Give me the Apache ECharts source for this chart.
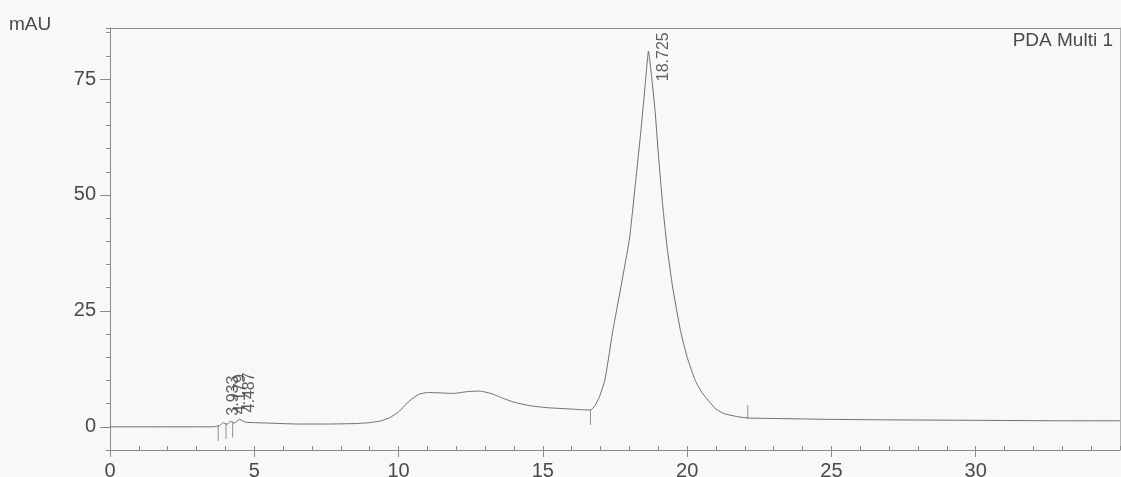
<!DOCTYPE html>
<html>
<head>
<meta charset="utf-8">
<script src="https://cdn.jsdelivr.net/npm/echarts@6/dist/echarts.min.js"></script>
<style>
  html, body { margin: 0; padding: 0; background: #f8f8f7; }
  #main { width: 1121px; height: 477px; }
</style>
</head>
<body>
<div id="main"></div>
<script>
// retention time (min) and detector signal (mAU)
var timeMin = [0, 1, 2, 3, 3.5, 3.7, 3.8, 3.93, 4.05, 4.18, 4.3, 4.49, 4.7, 5.0, 5.5, 6.5, 7.5, 8.5, 9.0, 9.4,
    9.7, 10.0, 10.2, 10.4, 10.7, 11.0, 11.5, 11.9, 12.4, 12.8, 13.2, 13.6, 14.0, 14.6, 15.2, 15.8, 16.3, 16.65,
    16.8, 16.95, 17.15, 17.43, 17.7, 18.0, 18.2, 18.4, 18.55, 18.66, 18.76, 18.89, 19.0, 19.15,
    19.3, 19.5, 19.76, 20.0, 20.28, 20.5, 20.73, 21.0, 21.3, 21.74, 22.1, 23, 24, 25, 27, 30, 33, 35];
var signalMAU = [0, 0, 0, 0, 0, 0.1, 0.3, 0.9, 0.5, 1.2, 0.8, 1.6, 1.0, 0.9, 0.8, 0.6, 0.6, 0.7, 0.9, 1.3,
    2.0, 3.2, 4.5, 5.7, 7.0, 7.4, 7.3, 7.2, 7.6, 7.7, 7.2, 6.2, 5.3, 4.5, 4.1, 3.9, 3.7, 3.6,
    4.5, 6.3, 10.1, 20.9, 30, 40.5, 52, 64, 74, 81, 76, 68, 59, 48,
    39, 30, 21, 15, 10, 7.5, 5.7, 3.8, 2.8, 2.2, 1.9, 1.8, 1.7, 1.6, 1.5, 1.4, 1.3, 1.3];

// integrated peaks: retention time and apex height
var peakRT = [3.933, 4.179, 4.487, 18.725];
var peakApex = [0.9, 1.2, 1.6, 81];

// peak start / end markers
var markDownT = [3.75, 4.02, 4.25, 16.65];
var markDownY = [0.2, 0.6, 0.9, 3.6];
var markUpT = [22.1];
var markUpY = [1.9];

var yTickLabels = [0, 25, 50, 75];

var axisColor = '#8a8a8a';
var textColor = '#4a4a4a';
var fontFamily = "'Liberation Sans', Arial, sans-serif";

var trace = timeMin.map(function (t, i) { return [t, signalMAU[i]]; });
var peaks = peakRT.map(function (t, i) {
    var item = { value: [t, peakApex[i]] };
    // the main peak label sits beside the apex instead of above it
    if (i === peakRT.length - 1) item.label = { position: [14, 31] };
    return item;
});
var downMarks = markDownT.map(function (t, i) { return [t, markDownY[i]]; });
var upMarks = markUpT.map(function (t, i) { return [t, markUpY[i]]; });

var myChart = echarts.init(document.getElementById('main'));
myChart.setOption({
    backgroundColor: '#f8f8f7',
    animation: false,
    grid: { left: 110, right: 1, top: 28, bottom: 27, containLabel: false, outerBoundsMode: 'none' },
    graphic: [
        { type: 'text', left: 9, top: 15,
          style: { text: 'mAU', font: '19px ' + fontFamily, fill: textColor } },
        { type: 'text', right: 8, top: 31,
          style: { text: 'PDA Multi 1', font: '19px ' + fontFamily, fill: textColor } }
    ],
    xAxis: [
        {   // main time axis with labels
            type: 'value', min: 0, max: 35, interval: 5, position: 'bottom',
            axisLine: { show: true, onZero: false, lineStyle: { color: axisColor, width: 1 } },
            axisTick: { show: true, length: 7, lineStyle: { color: axisColor } },
            axisLabel: { color: textColor, fontSize: 20, fontFamily: fontFamily, margin: 11, showMaxLabel: false },
            splitLine: { show: false }
        },
        {   // minor ticks every minute
            type: 'value', min: 0, max: 35, interval: 1, position: 'bottom',
            axisLine: { show: false, onZero: false },
            axisTick: { show: true, inside: true, length: 4, lineStyle: { color: axisColor } },
            axisLabel: { show: false },
            splitLine: { show: false }
        },
        {   // top frame
            type: 'value', min: 0, max: 35, position: 'top',
            axisLine: { show: true, onZero: false, lineStyle: { color: axisColor } },
            axisTick: { show: false }, axisLabel: { show: false }, splitLine: { show: false }
        }
    ],
    yAxis: [
        {
            type: 'value', min: -5, max: 86, position: 'left',
            axisLine: { show: true, onZero: false, lineStyle: { color: axisColor } },
            axisTick: { show: true, length: 10, customValues: yTickLabels, lineStyle: { color: axisColor } },
            axisLabel: { color: textColor, fontSize: 20, fontFamily: fontFamily, margin: 14,
                         customValues: yTickLabels },
            splitLine: { show: false }
        },
        {   // minor ticks every 5 mAU
            type: 'value', min: -5, max: 86, interval: 5, position: 'left',
            axisLine: { show: false, onZero: false },
            axisTick: { show: true, length: 4, lineStyle: { color: axisColor } },
            axisLabel: { show: false }, splitLine: { show: false }
        },
        {   // right frame
            type: 'value', min: -5, max: 86, position: 'right',
            axisLine: { show: true, onZero: false, lineStyle: { color: '#b5b5b5' } },
            axisTick: { show: false }, axisLabel: { show: false }, splitLine: { show: false }
        }
    ],
    series: [
        {
            name: 'PDA Multi 1', type: 'line', data: trace,
            xAxisIndex: 0, yAxisIndex: 0,
            showSymbol: false, smooth: 0.15,
            lineStyle: { color: '#6e6e6e', width: 1 }
        },
        {
            type: 'scatter', data: downMarks, xAxisIndex: 0, yAxisIndex: 0,
            symbol: 'rect', symbolSize: [1, 16], symbolOffset: [0, 7],
            itemStyle: { color: '#777' }, silent: true
        },
        {
            type: 'scatter', data: upMarks, xAxisIndex: 0, yAxisIndex: 0,
            symbol: 'rect', symbolSize: [1, 14], symbolOffset: [0, -6],
            itemStyle: { color: '#777' }, silent: true
        },
        {
            type: 'scatter', data: peaks, xAxisIndex: 0, yAxisIndex: 0,
            symbolSize: 2, itemStyle: { color: 'rgba(0,0,0,0)' }, silent: true,
            label: {
                show: true, rotate: 90, align: 'left', verticalAlign: 'middle',
                color: '#3a3a3a', fontSize: 16, fontFamily: fontFamily,
                position: [11, -6],
                formatter: function (p) { return p.value[0].toFixed(3); }
            }
        }
    ]
});
</script>
</body>
</html>
